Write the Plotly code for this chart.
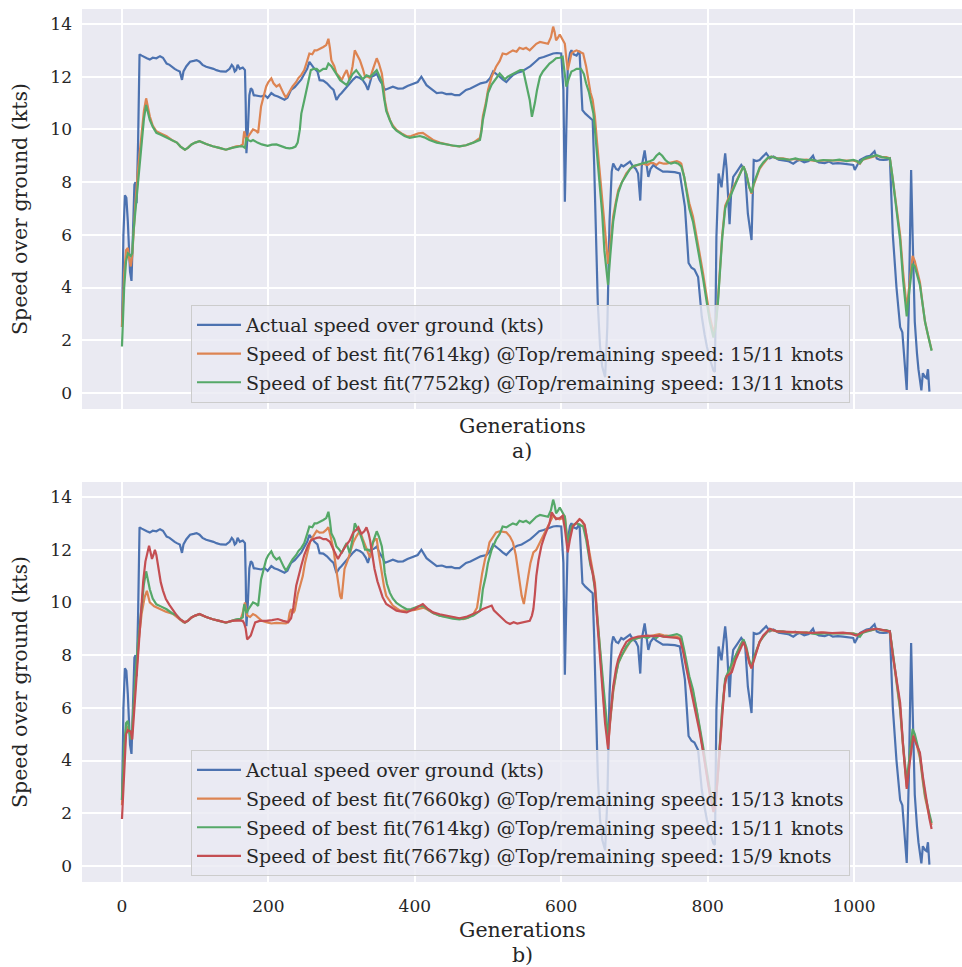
import plotly.graph_objects as go

# ---------------- data ----------------
# Measured speed over ground (kts) per generation
actual_gen = [0, 2, 4, 6, 8, 11, 13, 15, 17, 18.5, 20, 22, 24, 27, 30, 34, 38, 42, 47, 52, 56, 61, 65, 68, 72, 75, 79, 82, 84, 88,
              93, 98, 102, 106, 110, 115, 120, 125, 129, 135, 142, 147, 150, 152, 154, 156, 158, 161, 165, 168, 169, 170, 172, 174,
              176, 178, 180, 185, 190, 195, 199, 204, 208, 213, 218, 222, 226, 231, 236, 240, 245, 249, 253, 256, 260, 263, 267, 270,
              275, 280, 285, 289, 293, 297, 300, 305, 311, 316, 320, 325, 329, 333, 336, 339, 341, 345, 348, 352, 356, 359, 364, 370,
              377, 384, 390, 398, 404, 409, 412, 416, 422, 430, 437, 443, 450, 455, 461, 466, 470, 476, 484, 490, 498, 503, 507, 512,
              516, 520, 525, 530, 534, 540, 546, 552, 558, 564, 570, 576, 582, 589, 594, 600, 603, 605, 607, 609, 612, 614, 617, 621,
              625, 627, 629, 633, 638, 641, 643, 645, 648, 650, 653, 656, 660, 663, 666, 669, 671, 675, 678, 682, 685, 690, 694, 698,
              702, 705, 708, 710, 714, 717, 719, 722, 726, 730, 733, 739, 745, 749, 755, 762, 765, 769, 772, 774, 778, 782, 787, 790,
              792, 796, 799, 804, 808, 810, 812, 815, 817, 819, 822, 824, 826, 828, 830, 832, 835, 840, 846, 851, 853, 855, 858, 860,
              863, 867, 871, 875, 880, 885, 890, 897, 903, 910, 917, 922, 926, 932, 938, 944, 946, 952, 960, 966, 971, 978, 985, 992,
              999, 1001, 1004, 1008, 1012, 1017, 1022, 1028, 1031, 1035, 1040, 1045, 1049, 1051, 1053, 1058, 1063, 1066, 1069, 1072,
              1075, 1078, 1080, 1083, 1086, 1088, 1092, 1094, 1097, 1099, 1101, 1103]
actual_sog = [2.5, 6.0, 7.5, 7.4, 6.5, 4.6, 4.25, 6.5, 7.9, 8.0, 7.2, 9.5, 12.85, 12.8, 12.75, 12.7, 12.65, 12.72, 12.7, 12.78, 12.72,
              12.5, 12.45, 12.37, 12.3, 12.25, 12.2, 11.88, 12.2, 12.4, 12.57, 12.6, 12.63, 12.57, 12.45, 12.38, 12.35, 12.3, 12.25,
              12.2, 12.19, 12.3, 12.45, 12.38, 12.2, 12.25, 12.45, 12.3, 12.35, 12.25, 11.0, 9.1, 10.0, 11.3, 11.56, 11.5, 11.3, 11.28,
              11.25, 11.3, 11.2, 11.38, 11.3, 11.25, 11.2, 11.13, 11.2, 11.5, 11.6, 11.75, 11.9, 12.1, 12.3, 12.56, 12.4, 12.3, 12.2,
              11.87, 11.85, 11.75, 11.6, 11.5, 11.12, 11.3, 11.38, 11.55, 11.75, 11.9, 12.0, 11.95, 11.87, 11.7, 11.5, 11.8, 12.0,
              12.05, 12.12, 11.87, 11.7, 11.5, 11.55, 11.62, 11.55, 11.56, 11.65, 11.75, 11.8, 12.0, 11.85, 11.68, 11.55, 11.38, 11.4,
              11.34, 11.35, 11.3, 11.3, 11.4, 11.5, 11.55, 11.68, 11.75, 11.8, 11.95, 12.2, 12.1, 12.0, 11.9, 11.8, 11.95, 12.06,
              12.15, 12.2, 12.3, 12.4, 12.55, 12.7, 12.75, 12.82, 12.88, 12.9, 12.88, 11.5, 7.26, 10.0, 12.37, 12.9, 13.0, 12.85, 12.8,
              12.98, 12.0, 10.73, 10.6, 10.48, 10.4, 10.35, 8.7, 6.0, 3.4, 1.8, 1.0, 0.6, 2.5, 6.5, 8.4, 8.71, 8.5, 8.46, 8.65, 8.6,
              8.7, 8.78, 8.6, 8.5, 8.33, 7.3, 8.6, 9.2, 8.6, 8.2, 8.5, 8.65, 8.55, 8.5, 8.4, 8.4, 8.4, 8.38, 8.33, 7.8, 7.07, 5.8, 4.93,
              4.75, 4.68, 4.4, 3.6, 2.9, 2.2, 1.76, 1.2, 0.85, 0.8, 5.9, 8.33, 8.0, 7.8, 8.6, 9.09, 8.5, 7.56, 6.4, 7.5, 8.2, 8.4,
              8.65, 8.46, 7.5, 6.8, 6.2, 5.8, 8.84, 8.8, 8.84, 8.95, 9.1, 8.9, 8.97, 8.85, 8.84, 8.8, 8.7, 8.8, 8.84, 8.75, 8.8, 9.0,
              8.85, 8.75, 8.72, 8.78, 8.7, 8.72, 8.7, 8.68, 8.65, 8.46, 8.6, 8.84, 8.9, 8.97, 9.0, 9.17, 8.9, 8.85, 8.84, 8.85, 8.9,
              7.5, 6.0, 4.0, 2.5, 2.3, 1.2, 0.11, 3.5, 8.46, 6.0, 2.7, 1.5, 0.9, 0.1, 0.75, 0.6, 0.56, 0.9, 0.05]

# Best fit 7614 kg, top/remaining speed 15/11 knots
fit7614_gen = [0, 3, 5.6, 8, 10, 12, 14, 16, 18.6, 22, 27, 30, 33, 35, 38, 42, 47, 53, 61, 68, 75, 80, 86, 90, 95, 100, 106, 115,
               124, 133, 142, 150, 156, 162, 165, 167, 170, 173, 176, 179, 183, 186, 190, 194, 197, 200, 204, 207, 211, 215, 218, 221,
               224, 228, 233, 238, 241, 245, 249, 253, 256, 260, 263, 266, 270, 275, 279, 282, 284, 286, 290, 293, 297, 300, 304, 307,
               311, 315, 318, 321, 325, 329, 332, 336, 339, 343, 346, 348, 351, 355, 357, 359, 362, 366, 370, 375, 382, 389, 395, 400,
               405, 411, 418, 425, 434, 443, 452, 461, 470, 480, 486, 489, 491, 493, 497, 500, 505, 511, 516, 520, 525, 530, 534, 539,
               543, 548, 552, 557, 562, 566, 571, 576, 582, 586, 589, 591, 593, 596, 598, 602, 605, 607, 609, 611, 614, 617, 621, 625,
               630, 634, 637, 640, 643, 646, 649, 652, 656, 660, 664, 667, 671, 675, 678, 683, 689, 694, 698, 705, 712, 718, 722, 726,
               730, 734, 740, 744, 750, 755, 758, 762, 764, 768, 771, 775, 780, 785, 789, 794, 799, 803, 808, 811, 814, 817, 820, 824,
               827, 830, 835, 840, 845, 849, 853, 857, 860, 863, 867, 871, 876, 882, 887, 895, 903, 912, 920, 926, 935, 942, 949, 958,
               965, 971, 980, 990, 999, 1004, 1008, 1012, 1017, 1024, 1031, 1038, 1044, 1049, 1053, 1058, 1063, 1067, 1072, 1076, 1080,
               1083, 1087, 1090, 1094, 1097, 1101, 1104, 1106]
fit7614_sog = [2.5, 4.5, 5.42, 5.5, 5.1, 4.8, 5.2, 6.2, 7.3, 8.5, 9.85, 10.7, 11.18, 10.9, 10.5, 10.15, 9.93, 9.85, 9.74, 9.6, 9.5,
               9.35, 9.23, 9.3, 9.43, 9.5, 9.55, 9.45, 9.36, 9.3, 9.23, 9.3, 9.36, 9.38, 9.43, 9.93, 9.6, 9.75, 9.9, 10.0, 9.95, 9.87,
               10.87, 11.3, 11.63, 11.8, 11.94, 11.75, 11.63, 11.7, 11.5, 11.35, 11.2, 11.4, 11.63, 11.8, 11.95, 12.07, 12.25, 12.6,
               12.88, 12.85, 13.0, 13.0, 13.05, 13.13, 13.2, 13.44, 13.1, 12.63, 12.4, 12.12, 12.0, 11.87, 12.1, 12.25, 11.87, 12.4,
               13.0, 12.85, 12.63, 12.3, 12.0, 12.0, 11.95, 12.3, 12.5, 12.7, 12.5, 12.12, 11.7, 11.12, 10.7, 10.36, 10.15, 9.98, 9.85,
               9.74, 9.75, 9.8, 9.85, 9.87, 9.75, 9.6, 9.5, 9.43, 9.38, 9.36, 9.4, 9.5, 9.6, 9.68, 10.0, 10.5, 11.0, 11.5, 12.0, 12.38,
               12.6, 12.88, 12.85, 12.95, 13.0, 12.95, 13.1, 13.05, 13.1, 13.0, 13.15, 13.25, 13.32, 13.3, 13.25, 13.5, 13.9, 13.7,
               13.38, 13.5, 13.6, 13.4, 13.25, 12.7, 12.25, 12.5, 12.88, 12.95, 13.0, 12.95, 12.88, 12.4, 11.87, 11.4, 11.12, 10.5, 9.5,
               8.6, 7.3, 6.0, 4.9, 5.6, 6.7, 7.3, 7.7, 8.0, 8.33, 8.5, 8.6, 8.65, 8.7, 8.65, 8.72, 8.72, 8.65, 8.75, 8.7, 8.7, 8.75,
               8.8, 8.8, 8.75, 8.7, 8.2, 7.8, 7.2, 6.7, 6.0, 5.3, 4.5, 3.6, 2.9, 2.3, 2.6, 3.5, 4.8, 6.0, 7.1, 7.3, 7.45, 7.8, 8.08,
               8.4, 8.6, 8.3, 7.8, 7.56, 7.9, 8.2, 8.5, 8.7, 8.9, 8.97, 8.9, 8.9, 8.85, 8.88, 8.84, 8.85, 8.82, 8.8, 8.82, 8.82, 8.8,
               8.82, 8.8, 8.82, 8.78, 8.7, 8.85, 8.9, 8.95, 9.0, 8.95, 8.95, 8.9, 8.1, 7.0, 6.0, 4.6, 3.2, 4.2, 5.2, 5.0, 4.5, 4.2,
               3.3, 2.7, 2.2, 1.9, 1.63]

# Best fit 7752 kg, top/remaining speed 13/11 knots
fit7752_gen = [0, 3, 5.6, 8, 12, 14, 16, 19, 23, 27, 30, 33, 35, 38, 42, 47, 53, 61, 68, 75, 80, 86, 90, 95, 100, 106, 115, 124,
               133, 142, 150, 156, 162, 165, 168, 170, 172, 176, 179, 185, 191, 199, 205, 211, 218, 224, 229, 233, 237, 240, 243, 245,
               249, 252, 255, 258, 262, 266, 270, 275, 279, 282, 286, 289, 293, 298, 303, 307, 311, 315, 320, 324, 329, 334, 339, 343,
               348, 352, 355, 358, 361, 366, 370, 375, 380, 386, 393, 400, 407, 413, 420, 430, 439, 450, 461, 470, 480, 486, 489, 491,
               493, 497, 500, 505, 509, 513, 516, 520, 523, 527, 534, 540, 544, 548, 550, 552, 555, 557, 560, 562, 564, 567, 571, 575,
               579, 584, 589, 593, 598, 602, 604, 607, 610, 614, 618, 621, 627, 631, 634, 638, 641, 644, 646, 650, 653, 656, 659, 662,
               664, 667, 671, 675, 678, 683, 689, 694, 698, 705, 712, 718, 722, 726, 730, 734, 738, 742, 746, 750, 755, 760, 764, 768,
               771, 775, 780, 785, 789, 794, 799, 803, 808, 811, 814, 817, 820, 824, 827, 830, 835, 840, 845, 849, 853, 857, 860, 863,
               867, 871, 876, 882, 887, 895, 903, 912, 920, 926, 935, 942, 949, 958, 965, 971, 980, 990, 999, 1004, 1008, 1012, 1017,
               1024, 1031, 1038, 1044, 1049, 1053, 1058, 1063, 1067, 1072, 1076, 1080, 1083, 1087, 1090, 1094, 1097, 1101, 1104, 1106]
fit7752_sog = [1.76, 4.0, 5.0, 5.3, 5.2, 5.3, 6.2, 7.1, 8.6, 9.6, 10.4, 10.93, 10.7, 10.36, 10.1, 9.87, 9.8, 9.7, 9.6, 9.5, 9.35,
               9.23, 9.3, 9.43, 9.5, 9.55, 9.45, 9.36, 9.3, 9.23, 9.3, 9.34, 9.36, 9.36, 9.3, 9.7, 9.6, 9.55, 9.6, 9.5, 9.43, 9.38,
               9.42, 9.43, 9.35, 9.3, 9.28, 9.3, 9.35, 9.5, 10.0, 10.6, 11.1, 11.5, 11.9, 12.25, 12.3, 12.3, 12.2, 12.3, 12.3, 12.5,
               12.4, 12.25, 12.1, 11.87, 11.75, 11.68, 11.9, 12.1, 12.25, 12.1, 11.9, 12.05, 12.0, 12.1, 12.25, 12.0, 11.8, 11.2, 10.7,
               10.35, 10.1, 9.95, 9.87, 9.75, 9.68, 9.72, 9.75, 9.7, 9.6, 9.5, 9.45, 9.4, 9.36, 9.4, 9.5, 9.55, 9.6, 9.9, 10.36, 10.9,
               11.38, 11.7, 11.87, 12.0, 12.12, 12.0, 11.9, 12.0, 12.1, 12.2, 12.25, 12.25, 12.0, 11.75, 11.4, 11.12, 10.48, 10.7, 11.0,
               11.5, 12.0, 12.2, 12.35, 12.5, 12.6, 12.7, 12.72, 12.76, 12.3, 11.62, 11.9, 12.2, 12.25, 12.3, 12.3, 12.1, 11.75, 11.4,
               11.0, 10.6, 10.0, 8.8, 8.0, 6.8, 5.4, 4.5, 4.1, 5.2, 6.5, 7.2, 7.6, 8.0, 8.3, 8.5, 8.6, 8.65, 8.7, 8.75, 8.8, 8.85, 9.0,
               9.1, 9.0, 8.85, 8.75, 8.7, 8.75, 8.7, 8.6, 8.2, 7.6, 7.0, 6.5, 5.8, 5.1, 4.3, 3.4, 2.7, 2.1, 2.5, 3.4, 4.6, 5.9, 7.0,
               7.25, 7.4, 7.75, 8.05, 8.35, 8.6, 8.3, 7.8, 7.6, 7.95, 8.25, 8.55, 8.75, 8.92, 8.97, 8.9, 8.88, 8.85, 8.9, 8.86, 8.83,
               8.85, 8.8, 8.84, 8.83, 8.82, 8.85, 8.8, 8.84, 8.8, 8.72, 8.86, 8.92, 8.96, 9.02, 8.95, 8.93, 8.9, 8.1, 6.9, 5.8, 4.3,
               2.9, 4.0, 4.9, 4.8, 4.4, 4.1, 3.3, 2.7, 2.2, 1.85, 1.6]

# Best fit 7660 kg, top/remaining speed 15/13 knots
fit7660_gen = [0, 3, 5.6, 8, 11, 14, 16, 19, 23, 27, 31, 34, 38, 44, 52, 60, 70, 78, 84, 90, 95, 100, 106, 115, 124, 133, 142, 150,
               156, 162, 165, 168, 171, 175, 179, 183, 187, 191, 197, 204, 211, 218, 224, 227, 229, 231, 234, 236, 238, 240, 244, 247,
               250, 254, 257, 261, 266, 270, 275, 279, 282, 285, 289, 292, 295, 298, 300, 302, 304, 309, 313, 316, 320, 325, 329, 332,
               336, 339, 343, 346, 348, 351, 355, 358, 361, 366, 370, 375, 380, 387, 393, 400, 407, 412, 416, 425, 434, 443, 452, 461,
               466, 473, 480, 485, 489, 492, 496, 500, 502, 507, 511, 516, 520, 525, 530, 534, 538, 541, 544, 546, 549, 552, 555, 558,
               562, 566, 571, 575, 580, 584, 589, 593, 598, 602, 605, 607, 609, 612, 616, 620, 625, 628, 632, 636, 639, 643, 646, 650,
               653, 657, 660, 662, 664, 667, 671, 675, 678, 683, 689, 694, 698, 705, 712, 718, 726, 734, 740, 750, 758, 764, 768, 771,
               775, 780, 785, 789, 794, 799, 803, 808, 811, 814, 817, 820, 824, 827, 830, 835, 840, 845, 849, 853, 857, 860, 863, 867,
               871, 876, 882, 887, 895, 903, 912, 920, 926, 935, 942, 949, 958, 965, 971, 980, 990, 999, 1004, 1008, 1012, 1017, 1024,
               1031, 1038, 1044, 1049, 1053, 1058, 1063, 1067, 1072, 1076, 1080, 1083, 1087, 1090, 1094, 1097, 1101, 1104, 1106]
fit7660_sog = [2.3, 4.3, 5.2, 5.3, 5.0, 5.1, 6.0, 7.2, 8.6, 9.6, 10.2, 10.44, 10.0, 9.85, 9.75, 9.65, 9.56, 9.4, 9.25, 9.3, 9.43,
               9.5, 9.55, 9.45, 9.36, 9.3, 9.23, 9.3, 9.32, 9.35, 9.6, 10.0, 9.5, 9.45, 9.56, 9.5, 9.4, 9.3, 9.25, 9.2, 9.22, 9.2, 9.2,
               9.25, 9.6, 9.74, 9.6, 9.7, 10.1, 10.3, 10.7, 11.0, 11.5, 11.9, 12.3, 12.5, 12.72, 12.65, 12.66, 12.75, 12.85, 12.5, 12.0,
               11.4, 10.8, 10.25, 10.13, 10.7, 11.27, 11.65, 12.0, 12.28, 12.5, 12.72, 12.4, 12.15, 11.9, 11.7, 12.28, 12.4, 12.4, 11.8,
               11.0, 10.6, 10.25, 10.05, 9.88, 9.78, 9.69, 9.69, 9.69, 9.72, 9.75, 9.8, 9.75, 9.6, 9.5, 9.46, 9.43, 9.4, 9.37, 9.42,
               9.56, 9.8, 10.63, 11.1, 11.65, 12.0, 12.28, 12.5, 12.66, 12.7, 12.68, 12.66, 12.5, 12.28, 11.8, 11.27, 10.7, 10.25, 9.94,
               10.4, 11.0, 11.5, 11.9, 12.0, 12.28, 12.5, 12.78, 13.0, 13.29, 13.2, 13.15, 13.2, 13.29, 12.7, 12.15, 12.6, 12.9, 13.0,
               13.16, 13.1, 12.9, 12.3, 11.77, 11.2, 10.76, 9.2, 7.98, 6.6, 5.6, 5.2, 4.57, 5.5, 6.6, 7.3, 7.7, 8.0, 8.3, 8.5, 8.6,
               8.65, 8.7, 8.7, 8.75, 8.8, 8.75, 8.72, 8.7, 8.62, 8.1, 7.6, 7.0, 6.6, 5.9, 5.2, 4.4, 3.5, 2.8, 2.1, 2.4, 3.4, 4.7, 5.9,
               7.0, 7.25, 7.4, 7.75, 8.05, 8.4, 8.55, 8.2, 7.7, 7.5, 7.85, 8.2, 8.5, 8.72, 8.9, 8.95, 8.9, 8.88, 8.86, 8.88, 8.85,
               8.86, 8.83, 8.82, 8.85, 8.84, 8.82, 8.84, 8.82, 8.83, 8.78, 8.72, 8.86, 8.92, 8.95, 9.0, 8.95, 8.93, 8.88, 8.0, 6.9, 5.9,
               4.5, 3.0, 4.1, 5.0, 4.9, 4.4, 4.1, 3.2, 2.6, 2.1, 1.8, 1.55]

# Best fit 7667 kg, top/remaining speed 15/9 knots
fit7667_gen = [0, 3, 5.6, 8, 12, 14, 16, 18.6, 22, 25.5, 29, 32, 35, 37, 39, 41, 43, 45, 47, 48, 51, 53, 56, 60, 65, 70, 75, 79,
               86, 90, 95, 100, 106, 115, 124, 133, 142, 150, 158, 165, 167, 169, 171, 173, 176, 179, 182, 188, 197, 205, 213, 220,
               227, 231, 234, 238, 241, 245, 249, 254, 258, 261, 266, 270, 275, 279, 284, 289, 292, 295, 298, 302, 307, 311, 316, 320,
               323, 327, 331, 334, 337, 339, 342, 345, 349, 352, 356, 361, 368, 375, 382, 389, 395, 400, 405, 411, 418, 425, 434, 443,
               452, 461, 470, 480, 487, 493, 500, 505, 508, 511, 516, 520, 525, 530, 535, 540, 543, 548, 552, 557, 560, 562, 564, 566,
               569, 573, 577, 580, 584, 587, 590, 593, 598, 602, 605, 609, 612, 616, 620, 625, 628, 632, 636, 639, 643, 646, 650, 653,
               657, 660, 662, 664, 667, 671, 675, 678, 683, 689, 694, 698, 705, 712, 718, 726, 734, 740, 750, 758, 762, 766, 771, 776,
               780, 785, 789, 794, 799, 803, 808, 811, 814, 817, 820, 823, 826, 830, 833, 838, 844, 849, 853, 857, 860, 863, 867, 871,
               876, 885, 895, 905, 915, 926, 940, 955, 970, 985, 995, 1003, 1010, 1017, 1025, 1031, 1040, 1049, 1053, 1058, 1063, 1067,
               1072, 1076, 1081, 1084, 1087, 1090, 1094, 1099, 1103, 1106]
fit7667_sog = [1.78, 3.8, 5.0, 5.15, 5.1, 4.8, 5.6, 6.9, 8.4, 9.7, 10.8, 11.55, 12.0, 12.15, 11.9, 11.65, 11.8, 12.0, 11.8, 11.6,
               11.1, 10.76, 10.45, 10.13, 9.9, 9.69, 9.5, 9.37, 9.24, 9.3, 9.43, 9.5, 9.56, 9.45, 9.36, 9.3, 9.24, 9.3, 9.32, 9.3, 9.2,
               9.0, 8.6, 8.65, 8.75, 9.0, 9.24, 9.3, 9.3, 9.33, 9.37, 9.3, 9.25, 9.4, 9.8, 10.63, 11.0, 11.4, 11.8, 12.15, 12.35, 12.4,
               12.45, 12.47, 12.4, 12.4, 12.3, 12.0, 11.8, 11.65, 11.8, 12.0, 12.2, 12.34, 12.66, 12.75, 12.85, 12.6, 12.7, 12.85, 12.6,
               12.34, 11.8, 11.27, 10.8, 10.5, 10.2, 9.94, 9.8, 9.69, 9.65, 9.62, 9.7, 9.75, 9.85, 9.94, 9.75, 9.62, 9.55, 9.5, 9.45,
               9.4, 9.45, 9.56, 9.65, 9.75, 9.82, 9.88, 9.7, 9.62, 9.45, 9.37, 9.25, 9.18, 9.25, 9.2, 9.22, 9.25, 9.28, 9.3, 9.5, 9.75,
               10.3, 11.0, 11.6, 12.15, 12.5, 12.7, 13.0, 13.42, 13.3, 13.16, 13.2, 13.29, 12.8, 11.9, 12.4, 12.9, 13.0, 13.16, 13.1,
               12.95, 12.3, 11.65, 11.1, 10.6, 9.0, 7.85, 6.4, 5.4, 4.94, 4.44, 5.6, 6.8, 7.5, 7.85, 8.2, 8.5, 8.6, 8.65, 8.7, 8.72,
               8.74, 8.72, 8.74, 8.7, 8.68, 8.65, 8.61, 8.2, 7.5, 6.84, 6.4, 5.7, 5.1, 4.3, 3.4, 2.7, 2.05, 2.4, 3.5, 4.56, 5.8, 6.8,
               7.2, 7.3, 7.35, 7.8, 8.2, 8.5, 8.2, 7.7, 7.5, 7.8, 8.2, 8.5, 8.75, 9.0, 8.9, 8.88, 8.86, 8.86, 8.84, 8.86, 8.84, 8.85,
               8.82, 8.74, 8.85, 8.93, 8.98, 9.0, 8.95, 8.9, 8.0, 7.1, 6.2, 4.6, 2.92, 3.9, 4.94, 4.7, 4.5, 4.3, 3.4, 2.4, 1.8, 1.4]

label_actual = "Actual speed over ground (kts)"
label_7614 = "Speed of best fit(7614kg) @Top/remaining speed: 15/11 knots"
label_7752 = "Speed of best fit(7752kg) @Top/remaining speed: 13/11 knots"
label_7660 = "Speed of best fit(7660kg) @Top/remaining speed: 15/13 knots"
label_7667 = "Speed of best fit(7667kg) @Top/remaining speed: 15/9 knots"

x_ticks = [0, 200, 400, 600, 800, 1000]
y_ticks = [0, 2, 4, 6, 8, 10, 12, 14]

# ---------------- styling ----------------
BLUE, ORANGE, GREEN, RED = "#4C72B0", "#DD8452", "#55A868", "#C44E52"
FONT = "DejaVu Serif"
TXT = "#262626"
W, H = 962, 967
LW = 2.2

fig = go.Figure()


def add_line(x, y, name, color, xa, ya, legend):
    fig.add_trace(go.Scatter(x=x, y=y, name=name, mode="lines",
                             line=dict(color=color, width=LW),
                             xaxis=xa, yaxis=ya, legend=legend,
                             legendgroup=legend + name))


# panel a)
add_line(actual_gen, actual_sog, label_actual, BLUE, "x", "y", "legend")
add_line(fit7614_gen, fit7614_sog, label_7614, ORANGE, "x", "y", "legend")
add_line(fit7752_gen, fit7752_sog, label_7752, GREEN, "x", "y", "legend")

# panel b)
add_line(actual_gen, actual_sog, label_actual, BLUE, "x2", "y2", "legend2")
add_line(fit7660_gen, fit7660_sog, label_7660, ORANGE, "x2", "y2", "legend2")
add_line(fit7614_gen, fit7614_sog, label_7614, GREEN, "x2", "y2", "legend2")
add_line(fit7667_gen, fit7667_sog, label_7667, RED, "x2", "y2", "legend2")

x_dom = [82 / W, 962 / W]
ya_dom = [1 - 409 / H, 1 - 9 / H]
yb_dom = [1 - 882 / H, 1 - 482 / H]
x_range = [-54.6, 1147.5]
y_range = [-0.61, 14.57]

axis_common = dict(showgrid=True, gridcolor="white", gridwidth=1.5, zeroline=False,
                   showline=False, ticks="", automargin=False,
                   tickfont=dict(family=FONT, size=17, color=TXT))

legend_common = dict(bgcolor="rgba(234,234,242,0.8)", bordercolor="#CCCCCC", borderwidth=1,
                     font=dict(family=FONT, size=19, color=TXT),
                     xanchor="left", yanchor="top", tracegroupgap=1,
                     itemwidth=44)

fig.update_layout(
    width=W, height=H,
    margin=dict(l=0, r=0, t=0, b=0),
    paper_bgcolor="white",
    plot_bgcolor="#EAEAF2",
    xaxis=dict(domain=x_dom, range=x_range, anchor="y", tickvals=x_ticks,
               showticklabels=False, **axis_common),
    yaxis=dict(domain=ya_dom, range=y_range, anchor="x", tickvals=y_ticks,
               ticklabelstandoff=9, **axis_common),
    xaxis2=dict(domain=x_dom, range=x_range, anchor="y2", tickvals=x_ticks,
                ticklabelstandoff=12, **axis_common),
    yaxis2=dict(domain=yb_dom, range=y_range, anchor="x2", tickvals=y_ticks,
                ticklabelstandoff=9, **axis_common),
    legend=dict(x=191 / W, y=1 - 305 / H, **legend_common),
    legend2=dict(x=191 / W, y=1 - 750 / H, **legend_common),
    showlegend=True,
)

label_font = dict(family=FONT, size=20.5, color=TXT)
texts = [
    ("Generations", 522, 426, 0),
    ("a)", 522, 451, 0),
    ("Generations", 522, 930, 0),
    ("b)", 522, 955, 0),
    ("Speed over ground (kts)", 20, 209, -90),
    ("Speed over ground (kts)", 20, 682, -90),
]
for txt, px, py, ang in texts:
    fig.add_annotation(text=txt, x=px / W, y=1 - py / H, xref="paper", yref="paper",
                       xanchor="center", yanchor="middle", showarrow=False,
                       textangle=ang, font=label_font)

fig.write_html("out.html")
